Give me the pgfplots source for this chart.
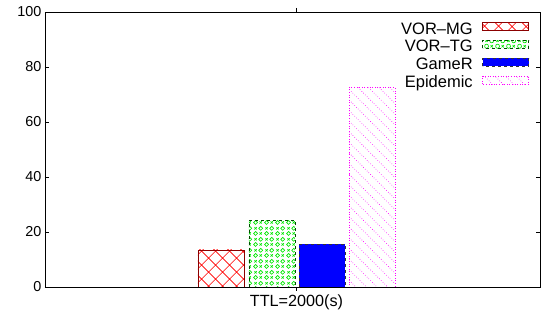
\documentclass[border=0pt]{standalone}
\usepackage{fontspec}
\setmainfont{Liberation Sans}
\usepackage{pgfplots}
\pgfplotsset{compat=1.18}
\usetikzlibrary{patterns.meta}
\pgfdeclarepattern{
  name=circx, type=uncolored,
  bottom left={\pgfpoint{0pt}{0pt}}, top right={\pgfpoint{11pt}{11pt}},
  tile size={\pgfpoint{11pt}{11pt}},
  code={
    \pgfsetlinewidth{0.7pt}
    \pgfpathcircle{\pgfpoint{2.75pt}{2.75pt}}{2.1pt}
    \pgfpathcircle{\pgfpoint{8.25pt}{8.25pt}}{2.1pt}
    \pgfpathmoveto{\pgfpoint{7pt}{1.5pt}}\pgfpathlineto{\pgfpoint{9.5pt}{4pt}}
    \pgfpathmoveto{\pgfpoint{7pt}{4pt}}\pgfpathlineto{\pgfpoint{9.5pt}{1.5pt}}
    \pgfpathmoveto{\pgfpoint{1.5pt}{7pt}}\pgfpathlineto{\pgfpoint{4pt}{9.5pt}}
    \pgfpathmoveto{\pgfpoint{1.5pt}{9.5pt}}\pgfpathlineto{\pgfpoint{4pt}{7pt}}
    \pgfusepath{stroke}
  }}
\definecolor{gpred}{RGB}{255,0,0}
\definecolor{gpdark}{RGB}{139,0,0}
\definecolor{gpgreen}{RGB}{0,230,0}
\definecolor{gpmag}{RGB}{255,0,255}
\begin{document}
\begin{tikzpicture}
\begin{axis}[
  at={(0,0)}, anchor=south west,
  scale only axis, width=495pt, height=275pt,
  xmin=-1, xmax=1, ymin=0, ymax=100,
  ytick={0,20,40,60,80,100},
  xtick={0.016}, xticklabels={TTL=2000(s)},
  tick align=inside, major tick length=4pt,
  tick style={black, line width=0.4pt},
  axis line style={line width=0.8pt},
  /pgf/number format/assume math mode=true,
  yticklabel style={font=\fontsize{14.4}{16}\selectfont},
  xticklabel style={font=\fontsize{16.2}{18}\selectfont},
  ybar, bar width=0.186,
  legend style={at={(1,1)}, anchor=north east, xshift=-11pt, yshift=-10pt,
    draw=none, fill=none, font=\fontsize{16.5}{18}\selectfont,
    row sep=1.8pt, column sep=9pt, inner sep=0pt,
    nodes={inner sep=0.5pt, text height=11.5pt, text depth=3.5pt}},
  legend plot pos=right,
  legend cell align=right,
  legend image code/.code={\draw[#1] (0pt,-0.5pt) rectangle (46pt,7.5pt);},
]
\addplot[bar shift=0pt, draw=gpdark, line width=0.6pt,
  pattern={Hatch[angle=45, distance=10.5pt, line width=0.7pt]}, pattern color=gpred]
  coordinates {(-0.289,13.5)};
\addplot[bar shift=0pt, draw=black!70!green, dashed, line width=0.6pt,
  pattern=circx, pattern color=gpgreen]
  coordinates {(-0.083,24.2)};
\addplot[bar shift=0pt, draw=black!80, dashed, line width=0.6pt, fill=blue]
  coordinates {(0.119,15.5)};
\addplot[bar shift=0pt, draw=gpmag, dotted, line width=0.6pt,
  pattern={Lines[angle=-45, distance=7.5pt, line width=0.6pt]}, pattern color=gpmag]
  coordinates {(0.321,72.6)};
\legend{VOR--MG, VOR--TG, GameR, Epidemic}
\end{axis}
\path (-45pt,-26pt) rectangle (496pt,287pt);
\end{tikzpicture}
\end{document}
